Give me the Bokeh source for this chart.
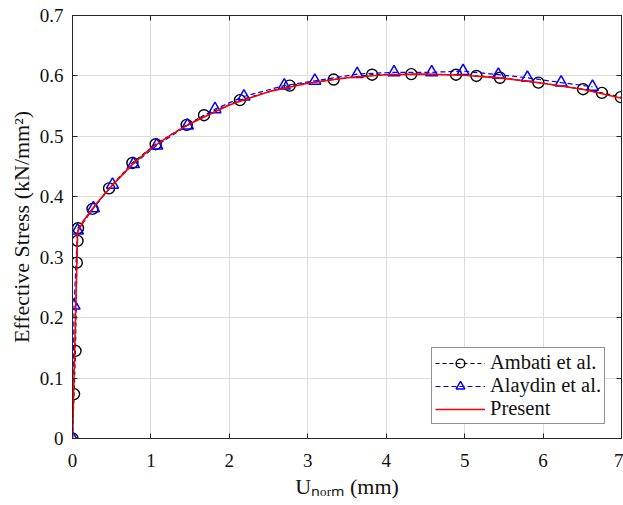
from bokeh.plotting import figure
from bokeh.models import LinearAxis, Range1d, Legend, LegendItem, FixedTicker
from bokeh.embed import file_html
from bokeh.resources import INLINE

# ---- data ----
ambati_x = [0, 0.02, 0.038, 0.055, 0.064, 0.07, 0.255, 0.466, 0.764, 1.06, 1.456, 1.677,
            2.135, 2.77, 3.33, 3.82, 4.32, 4.89, 5.15, 5.45, 5.94, 6.51, 6.75, 6.99]
ambati_y = [0, 0.0735, 0.145, 0.291, 0.327, 0.348, 0.380, 0.414, 0.456, 0.487, 0.519, 0.535,
            0.560, 0.584, 0.594, 0.602, 0.603, 0.602, 0.600, 0.597, 0.589, 0.578, 0.572, 0.565]

alaydin_x = [0, 0.02, 0.064, 0.267, 0.51, 0.777, 1.074, 1.465, 1.817, 2.186, 2.70, 3.09,
             3.63, 4.10, 4.58, 4.98, 5.43, 5.80, 6.23, 6.63]
alaydin_y = [0, 0.220, 0.344, 0.381, 0.420, 0.454, 0.485, 0.518, 0.545, 0.566, 0.584, 0.592,
             0.603, 0.606, 0.606, 0.608, 0.602, 0.597, 0.589, 0.582]

present_x = [0, 0.065, 0.15, 0.3, 0.5, 0.75, 1.0, 1.25, 1.5, 2.0, 2.5, 3.0, 3.5, 4.0,
             4.5, 5.0, 5.5, 6.0, 6.5, 7.0]
present_y = [0, 0.342, 0.362, 0.388, 0.418, 0.452, 0.480, 0.502, 0.521, 0.552, 0.574, 0.588,
             0.597, 0.602, 0.603, 0.601, 0.596, 0.588, 0.578, 0.563]

x_ticks = [0, 1, 2, 3, 4, 5, 6, 7]
y_ticks = [0, 0.1, 0.2, 0.3, 0.4, 0.5, 0.6, 0.7]
y_tick_labels = {0: "0", 0.1: "0.1", 0.2: "0.2", 0.3: "0.3", 0.4: "0.4", 0.5: "0.5", 0.6: "0.6", 0.7: "0.7"}
x_label = "Uₙₒᵣₘ (mm)"
y_label = "Effective Stress (kN/mm²)"

FONT = "Liberation Serif"
AX = "#262626"
TXT = "#111111"

p = figure(width=623, height=505, output_backend="svg", toolbar_location=None,
           x_range=Range1d(0, 7), y_range=Range1d(0, 0.7),
           min_border_left=72, min_border_right=2, min_border_top=15, min_border_bottom=67)
p.outline_line_color = AX
p.outline_line_width = 1
p.background_fill_color = "white"

for ax in (p.xaxis[0], p.yaxis[0]):
    ax.major_tick_in = 5
    ax.major_tick_out = 0
    ax.minor_tick_in = 0
    ax.minor_tick_out = 0
    ax.axis_line_color = AX
    ax.major_tick_line_color = AX
    ax.major_label_text_font = FONT
    ax.major_label_text_font_size = "19px"
    ax.major_label_text_color = TXT
    ax.axis_label_text_font = FONT
    ax.axis_label_text_font_size = "22px"
    ax.axis_label_text_font_style = "normal"
    ax.axis_label_text_color = TXT

p.xaxis[0].ticker = FixedTicker(ticks=x_ticks)
p.yaxis[0].ticker = FixedTicker(ticks=y_ticks)
p.yaxis[0].major_label_overrides = y_tick_labels
p.xaxis[0].major_label_standoff = 15
p.yaxis[0].major_label_standoff = 9
p.xaxis[0].axis_label = x_label
p.xaxis[0].axis_label_standoff = 4
p.yaxis[0].axis_label = y_label
p.yaxis[0].axis_label_standoff = 3

for loc, tick in (("above", x_ticks), ("right", y_ticks)):
    a = LinearAxis(ticker=FixedTicker(ticks=tick))
    a.major_tick_in = 5
    a.major_tick_out = 0
    a.minor_tick_in = 0
    a.minor_tick_out = 0
    a.major_label_text_alpha = 0
    a.major_label_text_font_size = "1px"
    a.major_label_standoff = 0
    a.axis_line_color = AX
    a.major_tick_line_color = AX
    p.add_layout(a, loc)

p.xgrid.ticker = FixedTicker(ticks=x_ticks)
p.ygrid.ticker = FixedTicker(ticks=y_ticks)
p.grid.grid_line_color = "#dcdcdc"
p.grid.grid_line_width = 1

# series
l1 = p.line(ambati_x, ambati_y, line_color="black", line_width=1.2, line_dash="4 3")
s1 = p.scatter(ambati_x, ambati_y, marker="circle", size=11, fill_color=None,
               line_color="black", line_width=1.4)
l2 = p.line(alaydin_x, alaydin_y, line_color="#0000ff", line_width=1.2, line_dash="5 3")
s2 = p.scatter(alaydin_x, alaydin_y, marker="triangle", size=12, fill_color=None,
               line_color="#0000ff", line_width=1.5)
l3 = p.line(present_x, present_y, line_color="#ff0000", line_width=1.6)

legend = Legend(items=[LegendItem(label="Ambati et al.", renderers=[l1, s1]),
                       LegendItem(label="Alaydin et al.", renderers=[l2, s2]),
                       LegendItem(label="Present", renderers=[l3])],
                location=(359, 14))
legend.label_text_font = FONT
legend.label_text_font_size = "20.5px"
legend.label_text_color = TXT
legend.glyph_width = 50
legend.glyph_height = 22
legend.label_height = 22
legend.label_standoff = 5
legend.spacing = 0
legend.padding = 3
legend.margin = 0
legend.border_line_color = AX
legend.border_line_width = 1
legend.background_fill_color = "white"
legend.background_fill_alpha = 1
p.add_layout(legend, "center")

open("out.html", "w").write(file_html(p, INLINE))
